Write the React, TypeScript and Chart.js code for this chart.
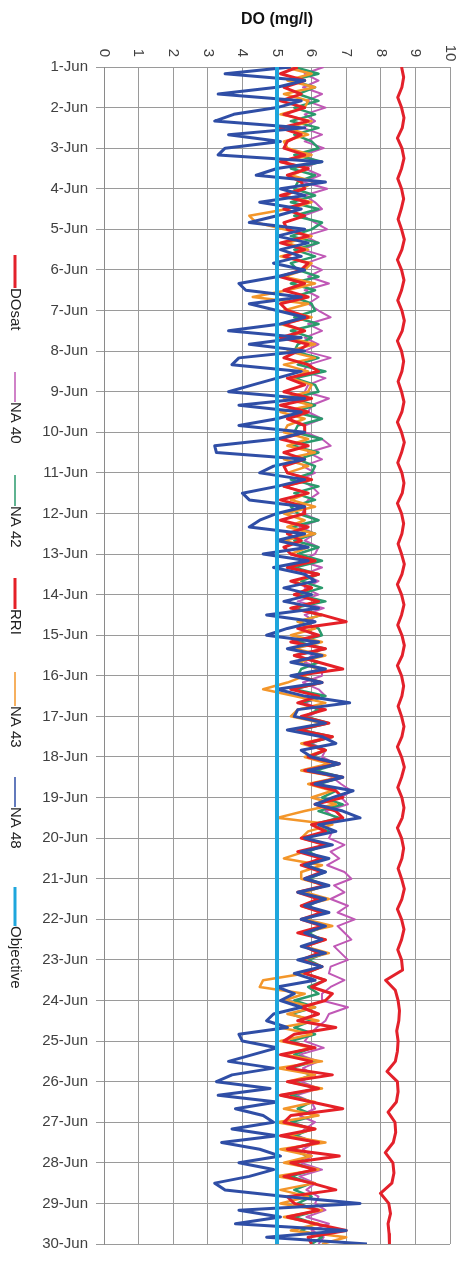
import React, { useEffect, useRef } from 'react';
import { Chart, registerables } from 'chart.js';

Chart.register(...registerables);

// ---------- data ----------
const TITLE = 'DO (mg/l)';
const DAY_LABELS = [
  '1-Jun', '2-Jun', '3-Jun', '4-Jun', '5-Jun', '6-Jun', '7-Jun', '8-Jun', '9-Jun', '10-Jun',
  '11-Jun', '12-Jun', '13-Jun', '14-Jun', '15-Jun', '16-Jun', '17-Jun', '18-Jun', '19-Jun', '20-Jun',
  '21-Jun', '22-Jun', '23-Jun', '24-Jun', '25-Jun', '26-Jun', '27-Jun', '28-Jun', '29-Jun', '30-Jun',
];
const DO_TICKS = [0, 1, 2, 3, 4, 5, 6, 7, 8, 9, 10];
const SPAN_DAYS = 29; // 1-Jun 00:00 .. 30-Jun 00:00

// DOsat: samples every 6 h
const DOSAT = [
  8.60, 8.66, 8.61, 8.49,
  8.60, 8.67, 8.62, 8.48,
  8.61, 8.67, 8.60, 8.49,
  8.60, 8.66, 8.59, 8.50,
  8.60, 8.68, 8.61, 8.48,
  8.60, 8.67, 8.60, 8.49,
  8.61, 8.68, 8.62, 8.48,
  8.60, 8.66, 8.61, 8.50,
  8.60, 8.67, 8.61, 8.48,
  8.60, 8.68, 8.60, 8.49,
  8.61, 8.67, 8.62, 8.48,
  8.60, 8.66, 8.61, 8.50,
  8.60, 8.68, 8.61, 8.48,
  8.60, 8.67, 8.60, 8.49,
  8.61, 8.68, 8.62, 8.48,
  8.60, 8.66, 8.61, 8.50,
  8.60, 8.67, 8.61, 8.48,
  8.60, 8.68, 8.60, 8.49,
  8.61, 8.67, 8.62, 8.48,
  8.60, 8.66, 8.61, 8.50,
  8.60, 8.68, 8.61, 8.48,
  8.60, 8.67, 8.60, 8.49,
  8.60, 8.63, 8.14, 8.42,
  8.50, 8.54, 8.52, 8.46,
  8.50, 8.48, 8.42, 8.18,
  8.48, 8.50, 8.45, 8.21,
  8.41, 8.43, 8.36, 8.13,
  8.35, 8.38, 8.32, 7.99,
  8.23, 8.28, 8.21, 8.24,
  8.25,
];

// other series: samples every 4 h
const NA40 = [
  6.35, 5.80, 6.20, 5.75, 6.30, 5.85,
  6.40, 5.80, 6.10, 5.75, 6.30, 5.80,
  6.35, 5.75, 6.20, 5.80, 6.25, 5.75,
  6.45, 5.80, 6.10, 6.30, 5.75, 6.10,
  6.45, 5.80, 6.20, 5.75, 6.40, 5.85,
  6.30, 5.90, 6.50, 5.80, 6.20, 5.90,
  6.20, 6.55, 5.90, 6.30, 5.80, 6.20,
  5.80, 6.55, 5.90, 5.75, 6.40, 5.90,
  5.80, 6.50, 6.00, 5.90, 6.30, 5.80,
  5.80, 6.30, 6.55, 5.90, 6.30, 5.75,
  6.10, 5.65, 6.00, 6.20, 5.90, 5.75,
  5.75, 6.20, 5.65, 6.10, 5.80, 6.20,
  6.10, 5.65, 6.30, 5.75, 6.20, 5.80,
  6.20, 5.60, 6.35, 5.80, 6.10, 5.70,
  6.10, 5.65, 6.30, 6.00, 5.80, 6.30,
  6.30, 5.75, 6.20, 6.40, 5.80, 6.30,
  5.90, 6.30, 5.75, 6.50, 6.00, 6.40,
  6.30, 6.70, 6.10, 6.60, 6.85, 7.15,
  6.85, 7.05, 6.40, 6.70, 6.30, 6.60,
  6.50, 6.95, 6.55, 6.80, 6.45, 6.95,
  7.15, 6.65, 6.95, 6.55, 7.05, 6.75,
  7.25, 6.75, 6.95, 7.15, 6.65, 6.85,
  7.05, 6.55, 6.50, 6.95, 6.55, 6.30,
  6.30, 7.05, 6.50, 6.40, 6.15, 5.95,
  5.80, 6.35, 5.65, 6.20, 5.75, 6.05,
  5.70, 6.20, 5.55, 6.00, 6.10, 5.65,
  6.10, 5.80, 5.60, 6.10, 5.75, 6.00,
  5.70, 6.30, 5.65, 6.10, 5.85, 6.20,
  6.10, 6.40, 5.85, 6.50, 6.00, 6.35,
  6.20,
];

const NA42 = [
  5.5, 6.2, 5.4, 6.1, 5.6, 6.2,
  5.5, 6.1, 5.4, 6.2, 5.5, 6.0,
  6.2, 5.5, 6.3, 5.4, 6.1, 5.6,
  5.5, 6.1, 5.4, 6.2, 5.5, 6.3,
  6.0, 5.4, 6.2, 5.5, 6.1, 5.4,
  5.6, 6.2, 5.4, 6.1, 5.5, 6.0,
  6.1, 5.5, 6.2, 5.4, 6.0, 5.6,
  5.5, 6.2, 5.6, 6.4, 5.5, 6.1,
  6.2, 5.4, 6.1, 5.5, 6.3, 5.6,
  5.5, 6.3, 5.4, 6.2, 5.6, 6.1,
  6.0, 5.4, 6.2, 5.5, 6.1, 5.4,
  5.6, 6.2, 5.4, 6.1, 5.5, 6.2,
  5.6, 6.3, 5.5, 6.2, 5.7, 6.3,
  5.6, 6.4, 5.5, 6.3, 5.6, 6.2,
  6.3, 5.6, 6.4, 5.5, 6.2, 5.7,
  5.6, 6.3, 5.5, 6.4, 5.7, 6.2,
  5.8, 6.5, 5.7, 6.6, 5.9, 6.4,
  6.0, 6.8, 6.1, 6.9, 6.2, 6.7,
  6.3, 6.9, 6.2, 6.8, 6.0, 6.5,
  5.8, 6.4, 5.9, 6.3, 5.8, 6.4,
  5.9, 6.4, 5.8, 6.3, 5.9, 6.3,
  5.8, 6.4, 5.9, 6.3, 5.8, 6.4,
  5.9, 6.3, 5.8, 6.4, 5.9, 6.2,
  5.5, 6.1, 5.4, 6.0, 5.5, 6.1,
  5.4, 6.0, 5.5, 6.1, 5.4, 6.0,
  5.5, 6.1, 5.4, 6.0, 5.6, 6.1,
  5.4, 6.0, 5.5, 6.1, 5.4, 5.9,
  5.5, 6.1, 5.4, 6.0, 5.5, 6.0,
  5.6, 6.2, 5.5, 6.1, 5.7, 6.3,
  6.0,
];

const RRI = [
  5.6, 5.1, 5.8, 5.2, 5.7, 5.1,
  5.8, 5.2, 5.9, 5.1, 5.7, 5.3,
  5.2, 5.8, 5.1, 5.9, 5.3, 5.7,
  5.8, 5.1, 5.9, 5.2, 5.8, 5.2,
  5.3, 5.9, 5.1, 5.8, 5.2, 5.9,
  5.7, 5.1, 5.8, 5.2, 5.9, 5.1,
  5.3, 5.9, 5.2, 5.8, 5.1, 5.9,
  5.6, 5.2, 5.9, 6.2, 5.3, 5.8,
  5.2, 6.0, 5.1, 5.9, 5.3, 5.8,
  5.8, 5.1, 5.9, 5.2, 5.8, 5.2,
  5.3, 6.0, 5.2, 5.9, 5.1, 5.8,
  5.8, 5.1, 5.9, 5.3, 5.7, 5.2,
  5.4, 6.1, 5.3, 6.2, 5.4, 6.0,
  5.5, 6.2, 5.4, 6.3, 7.0, 5.6,
  6.2, 5.4, 6.4, 5.5, 6.2, 6.9,
  5.5, 6.3, 5.4, 6.2, 5.6, 6.4,
  5.7, 6.5, 5.6, 6.6, 5.8, 6.4,
  5.9, 6.8, 5.8, 6.9, 6.0, 6.7,
  6.9, 6.1, 6.7, 6.9, 6.0, 6.4,
  5.7, 6.4, 5.6, 6.3, 5.7, 6.3,
  5.8, 6.4, 5.6, 6.2, 5.7, 6.3,
  5.7, 6.3, 5.6, 6.4, 5.8, 6.2,
  5.7, 6.3, 5.8, 6.4, 6.0, 6.6,
  6.4, 5.7, 6.2, 5.6, 6.7, 5.5,
  5.2, 6.1, 5.1, 6.0, 5.3, 6.6,
  5.3, 6.2, 5.1, 6.0, 6.9, 5.4,
  5.2, 6.1, 5.1, 6.2, 5.3, 6.8,
  5.4, 6.1, 5.2, 6.0, 6.7, 5.3,
  5.5, 6.2, 5.3, 6.1, 7.0, 5.9,
  6.0,
];

const NA43 = [
  5.2, 6.0, 5.3, 6.1, 5.2, 5.9,
  5.8, 5.1, 6.0, 5.3, 5.9, 5.2,
  5.3, 6.0, 5.1, 5.9, 5.4, 6.1,
  5.7, 5.2, 6.0, 5.3, 4.2, 4.4,
  5.2, 6.0, 5.3, 5.9, 5.1, 6.0,
  5.8, 5.2, 6.1, 5.3, 4.3, 5.9,
  5.2, 6.0, 5.1, 5.8, 5.3, 6.1,
  5.3, 6.1, 5.2, 5.9, 5.4, 6.0,
  5.9, 5.2, 6.0, 5.1, 5.8, 5.3,
  5.2, 5.9, 5.3, 6.1, 5.2, 5.9,
  5.3, 6.0, 5.2, 5.9, 5.4, 6.1,
  5.2, 5.8, 5.3, 6.1, 5.2, 5.9,
  5.4, 6.1, 5.3, 6.2, 5.5, 6.0,
  5.5, 6.2, 5.4, 6.3, 5.6, 6.1,
  5.4, 6.3, 5.5, 6.4, 5.6, 6.2,
  5.8, 5.3, 4.6, 5.5, 6.4, 5.6,
  5.4, 6.3, 5.5, 6.6, 5.7, 6.4,
  5.8, 6.5, 5.7, 6.8, 5.9, 6.6,
  6.0, 6.7, 5.8, 5.0, 6.6, 5.9,
  5.7, 6.4, 5.8, 5.2, 6.3, 5.7,
  5.7, 6.4, 5.8, 6.5, 5.7, 6.3,
  5.8, 6.6, 5.7, 6.4, 5.8, 6.5,
  5.7, 6.3, 5.8, 4.6, 4.5, 5.8,
  5.2, 6.1, 5.3, 6.2, 5.1, 6.0,
  5.1, 6.0, 5.2, 6.3, 5.0, 6.1,
  5.3, 6.3, 5.1, 6.1, 5.2, 6.2,
  5.0, 6.1, 5.3, 6.4, 5.1, 6.0,
  5.2, 6.2, 5.0, 6.1, 5.1, 5.9,
  5.1, 6.3, 5.2, 6.2, 5.4, 7.0,
  6.3,
];

const NA48 = [
  5.4, 3.5, 5.8, 5.0, 3.3, 5.7,
  5.0, 3.75, 3.2, 5.8, 3.6, 5.1,
  3.5, 3.3, 6.3, 5.0, 4.4, 6.4,
  5.1, 5.8, 4.5, 5.7, 5.0, 4.2,
  5.8, 5.0, 5.9, 5.1, 5.7, 4.9,
  5.8, 5.0, 3.9, 4.1, 5.7, 4.2,
  5.0, 5.8, 5.1, 3.6, 5.7, 4.2,
  5.8, 3.9, 3.7, 5.7, 5.0, 4.3,
  3.6, 5.8, 3.9, 5.7, 5.0, 3.9,
  5.8, 5.0, 3.2, 3.25, 5.8, 4.9,
  4.5, 5.8, 5.0, 4.0, 4.2, 5.8,
  5.0, 4.5, 4.2, 5.8, 5.0, 5.9,
  4.6, 5.9, 4.9, 5.8, 6.1, 5.2,
  6.0, 5.2, 6.2, 4.7, 6.1, 5.3,
  4.7, 6.2, 5.3, 6.3, 5.4, 6.4,
  5.4, 6.3, 5.0, 5.8, 7.1, 5.6,
  5.5, 6.4, 5.3, 6.3, 6.7, 5.7,
  6.0, 6.8, 5.9, 6.9, 6.1, 7.2,
  6.6, 6.1, 6.9, 7.4, 6.2, 6.7,
  5.8, 6.6, 5.7, 6.5, 5.8, 6.4,
  5.8, 6.5, 5.6, 6.4, 5.8, 6.5,
  5.7, 6.4, 5.8, 6.3, 5.7, 6.4,
  5.6, 6.3, 5.5, 6.1, 5.0, 5.5,
  5.1, 5.7, 4.9, 4.7, 5.3, 3.9,
  4.0, 5.0, 4.3, 3.6, 4.9, 3.7,
  3.25, 4.8, 3.3, 5.0, 3.8, 4.6,
  4.9, 3.7, 5.0, 3.4, 4.5, 5.1,
  3.9, 4.9, 4.2, 3.2, 3.5, 5.3,
  7.4, 3.9, 5.1, 3.8, 7.0, 4.7,
  7.6,
];

const OBJECTIVE = [5, 5];

// ---------- helpers ----------
const FONT = "'Liberation Sans', Arial, sans-serif";

function toPoints(values: number[]) {
  const step = SPAN_DAYS / (values.length - 1);
  return values.map((v, i) => ({ x: v, y: i * step }));
}

const SERIES = [
  { label: 'DOsat', data: DOSAT, color: '#e3212b', width: 3, order: 6 },
  { label: 'NA 40', data: NA40, color: '#c058b6', width: 2, order: 5 },
  { label: 'NA 42', data: NA42, color: '#2a9a6c', width: 2.5, order: 4 },
  { label: 'RRI', data: RRI, color: '#e52027', width: 3, order: 2 },
  { label: 'NA 43', data: NA43, color: '#f3962a', width: 2.5, order: 3 },
  { label: 'NA 48', data: NA48, color: '#2f4ea6', width: 3, order: 1 },
  { label: 'Objective', data: OBJECTIVE, color: '#1ea6dc', width: 4, order: 0 },
];

// legend layout (line start, text start) along the left edge, text rotated clockwise
const LEGEND_POS = [
  [255, 288],
  [372, 402],
  [475, 506],
  [578, 609],
  [672, 706],
  [777, 807],
  [887, 926],
];
const LEGEND_WIDTH = [3, 1.5, 1.5, 3, 1.5, 1.5, 3];

const decorPlugin = {
  id: 'decor',
  afterDraw(chart: any) {
    const { ctx, chartArea } = chart;
    const xs = chart.scales.x;
    ctx.save();
    // title
    ctx.fillStyle = '#111';
    ctx.font = `bold 16px ${FONT}`;
    ctx.textAlign = 'center';
    ctx.textBaseline = 'middle';
    ctx.fillText(TITLE, (chartArea.left + chartArea.right) / 2, 20);
    // DO tick labels, rotated clockwise
    ctx.fillStyle = '#404040';
    ctx.font = `15px ${FONT}`;
    DO_TICKS.forEach((v) => {
      const px = xs.getPixelForValue(v);
      ctx.save();
      ctx.translate(px, 53);
      ctx.rotate(Math.PI / 2);
      ctx.textAlign = 'center';
      ctx.textBaseline = 'middle';
      ctx.fillText(String(v), 0, 0);
      ctx.restore();
    });
    // legend
    const lx = 15;
    SERIES.forEach((s, i) => {
      const [l0, t0] = LEGEND_POS[i];
      ctx.beginPath();
      ctx.strokeStyle = s.color;
      ctx.lineWidth = LEGEND_WIDTH[i];
      ctx.moveTo(lx, l0);
      ctx.lineTo(lx, t0);
      ctx.stroke();
      ctx.save();
      ctx.translate(lx, t0);
      ctx.rotate(Math.PI / 2);
      ctx.fillStyle = '#222';
      ctx.font = `15px ${FONT}`;
      ctx.textAlign = 'left';
      ctx.textBaseline = 'middle';
      ctx.fillText(s.label, 0, 0);
      ctx.restore();
    });
    ctx.restore();
  },
};

export default function App() {
  const ref = useRef<HTMLCanvasElement | null>(null);

  useEffect(() => {
    if (!ref.current) return;
    const chart = new Chart(ref.current, {
      type: 'scatter',
      data: {
        datasets: SERIES.map((s) => ({
          label: s.label,
          data: toPoints(s.data),
          showLine: true,
          borderColor: s.color,
          backgroundColor: s.color,
          borderWidth: s.width,
          pointRadius: 0,
          pointHoverRadius: 0,
          tension: 0,
          borderJoinStyle: 'round' as const,
          order: s.order,
        })),
      },
      options: {
        responsive: false,
        animation: false,
        devicePixelRatio: 1,
        layout: { padding: { left: 0, right: 19, top: 67, bottom: 10 } },
        plugins: { legend: { display: false }, tooltip: { enabled: false } },
        scales: {
          x: {
            type: 'linear',
            position: 'top',
            min: 0,
            max: 10,
            ticks: { display: false, stepSize: 1 },
            grid: { color: '#9a9a9a', lineWidth: 1, drawTicks: false },
            border: { color: '#9a9a9a' },
            afterFit: (s: any) => { s.height = 0; },
          },
          y: {
            type: 'linear',
            reverse: true,
            min: 0,
            max: SPAN_DAYS,
            ticks: {
              stepSize: 1,
              autoSkip: false,
              padding: 8,
              color: '#404040',
              font: { family: FONT, size: 15 },
              callback: (v: any) => DAY_LABELS[Math.round(Number(v))] ?? '',
            },
            grid: { color: '#9a9a9a', lineWidth: 1, tickLength: 8 },
            border: { color: '#8a8a8a' },
            afterFit: (s: any) => { s.width = 104; },
          },
        },
      },
      plugins: [decorPlugin],
    });
    return () => chart.destroy();
  }, []);

  return (
    <div style={{ position: 'absolute', left: 0, top: 0, width: 469, height: 1261, background: '#fff' }}>
      <canvas ref={ref} width={469} height={1261} style={{ display: 'block' }} />
    </div>
  );
}
